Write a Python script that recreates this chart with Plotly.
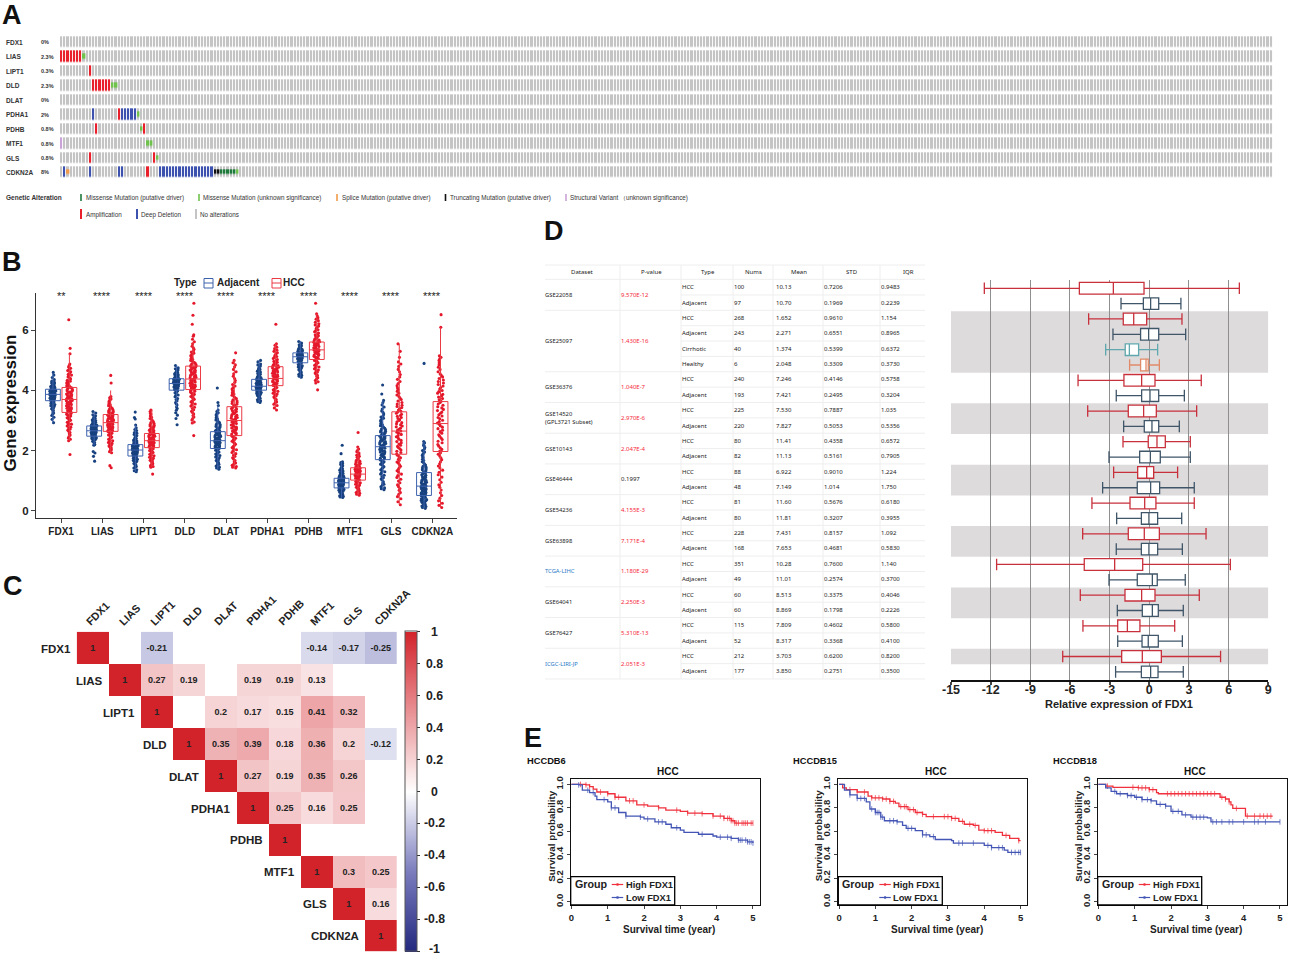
import numpy as np
import plotly.graph_objects as go

W, H = 1289, 956
SANS = "Liberation Sans"

genes = ["FDX1", "LIAS", "LIPT1", "DLD", "DLAT", "PDHA1", "PDHB", "MTF1", "GLS", "CDKN2A"]

# ---- A: oncoprint, sample indices per gene
onco_pct = ["0%", "2.3%", "0.3%", "2.3%", "0%", "2%", "0.8%", "0.8%", "0.8%", "8%"]
n_samples = 379
amp_cells = {"LIAS": [0, 1, 2, 3, 4, 5, 6], "LIPT1": [9], "DLD": [10, 11, 12, 13, 14, 15], "PDHA1": [18],
             "PDHB": [11, 26], "GLS": [9, 29], "CDKN2A": [27]}
deep_cells = {"PDHA1": [10, 19, 20, 21, 22, 23], "CDKN2A": [1, 9, 18, 19] + list(range(31, 48))}
sv_cells = {"MTF1": [0]}
unk_cells = {"LIAS": [7], "DLD": [16, 17], "PDHA1": [24], "PDHB": [25], "MTF1": [27, 28], "GLS": [30], "CDKN2A": [55]}
driver_cells = {"CDKN2A": [50, 51, 52, 53, 54]}
splice_cells = {"CDKN2A": [2]}
trunc_cells = {"CDKN2A": [48, 49]}

# ---- B: expression boxes (lower whisker, q1, median, q3, upper whisker)
adj_stats = [[2.93, 3.66, 3.87, 4.04, 4.57], [2.18, 2.48, 2.66, 2.82, 3.30], [1.30, 1.82, 2.02, 2.20, 2.85],
             [3.45, 4.01, 4.23, 4.39, 4.85], [1.38, 2.07, 2.33, 2.63, 3.50], [3.60, 4.01, 4.14, 4.37, 5.00],
             [4.40, 4.92, 5.12, 5.25, 5.65], [0.44, 0.76, 0.93, 1.08, 1.63], [0.70, 1.70, 2.13, 2.50, 3.67],
             [0.08, 0.51, 0.82, 1.27, 2.30]]
hcc_stats = [[2.33, 3.27, 3.70, 4.10, 5.22], [1.90, 2.64, 2.93, 3.20, 4.00], [1.45, 2.10, 2.33, 2.57, 3.35],
             [2.90, 4.03, 4.38, 4.81, 5.62], [1.42, 2.50, 3.00, 3.46, 5.00], [3.35, 4.16, 4.40, 4.79, 5.55],
             [4.25, 5.03, 5.35, 5.61, 6.55], [0.52, 1.02, 1.22, 1.43, 2.12], [0.20, 1.88, 2.65, 3.29, 5.55],
             [0.11, 1.97, 2.90, 3.63, 6.10]]
signif = ["**", "****", "****", "****", "****", "****", "****", "****", "****", "****"]

adj_points = [
    [2.93, 3.04, 3.11, 3.17, 3.21, 3.28, 3.33, 3.37, 3.41, 3.46, 3.49, 3.53, 3.56, 3.59, 3.61, 3.63, 3.65, 3.67, 3.69, 3.72, 3.73, 3.75, 3.77, 3.79, 3.81, 3.83, 3.84, 3.86, 3.88, 3.89, 3.91, 3.93, 3.95, 3.97, 3.99, 4.01, 4.03, 4.05, 4.07, 4.10, 4.13, 4.16, 4.19, 4.23, 4.27, 4.31, 4.36, 4.43, 4.51, 4.60],
    [1.65, 1.81, 1.92, 1.97, 2.18, 2.22, 2.27, 2.31, 2.35, 2.38, 2.41, 2.44, 2.47, 2.49, 2.51, 2.53, 2.55, 2.57, 2.59, 2.61, 2.63, 2.64, 2.66, 2.68, 2.70, 2.71, 2.73, 2.75, 2.77, 2.78, 2.80, 2.82, 2.84, 2.86, 2.88, 2.91, 2.94, 2.97, 3.00, 3.04, 3.08, 3.13, 3.19, 3.25, 3.30],
    [1.30, 1.36, 1.42, 1.47, 1.52, 1.57, 1.61, 1.65, 1.69, 1.73, 1.76, 1.79, 1.82, 1.85, 1.87, 1.89, 1.92, 1.94, 1.96, 1.98, 2.00, 2.02, 2.04, 2.06, 2.08, 2.10, 2.12, 2.14, 2.17, 2.19, 2.21, 2.24, 2.27, 2.30, 2.34, 2.38, 2.43, 2.48, 2.54, 2.60, 2.67, 2.76, 2.85, 3.05, 3.10, 3.28],
    [2.86, 3.07, 3.18, 3.26, 3.34, 3.45, 3.52, 3.60, 3.66, 3.73, 3.79, 3.85, 3.90, 3.94, 3.98, 4.01, 4.04, 4.07, 4.10, 4.13, 4.16, 4.18, 4.20, 4.22, 4.24, 4.26, 4.28, 4.30, 4.32, 4.34, 4.36, 4.38, 4.40, 4.43, 4.46, 4.49, 4.53, 4.57, 4.62, 4.68, 4.75, 4.83],
    [1.38, 1.45, 1.52, 1.58, 1.64, 1.70, 1.76, 1.81, 1.86, 1.91, 1.95, 1.99, 2.03, 2.07, 2.10, 2.13, 2.16, 2.19, 2.22, 2.25, 2.28, 2.31, 2.33, 2.36, 2.39, 2.42, 2.45, 2.48, 2.51, 2.54, 2.57, 2.60, 2.64, 2.68, 2.72, 2.77, 2.82, 2.87, 2.93, 2.99, 3.05, 3.12, 3.19, 3.26, 3.35, 3.50, 3.60, 4.08],
    [3.60, 3.66, 3.71, 3.76, 3.80, 3.84, 3.88, 3.91, 3.94, 3.97, 4.00, 4.02, 4.04, 4.06, 4.08, 4.10, 4.12, 4.14, 4.16, 4.18, 4.20, 4.22, 4.25, 4.27, 4.30, 4.33, 4.36, 4.39, 4.43, 4.47, 4.51, 4.56, 4.61, 4.67, 4.74, 4.81, 4.88, 4.95, 5.00],
    [4.44, 4.50, 4.56, 4.61, 4.66, 4.71, 4.76, 4.80, 4.84, 4.88, 4.91, 4.94, 4.97, 5.00, 5.03, 5.06, 5.08, 5.10, 5.12, 5.14, 5.16, 5.18, 5.20, 5.22, 5.24, 5.27, 5.30, 5.33, 5.37, 5.41, 5.46, 5.52, 5.58, 5.63],
    [0.44, 0.48, 0.52, 0.56, 0.60, 0.63, 0.66, 0.69, 0.72, 0.74, 0.76, 0.78, 0.80, 0.83, 0.85, 0.87, 0.89, 0.91, 0.93, 0.95, 0.97, 0.99, 1.01, 1.03, 1.05, 1.07, 1.10, 1.13, 1.16, 1.19, 1.23, 1.27, 1.32, 1.37, 1.43, 1.50, 1.57, 1.63, 1.90, 2.18],
    [0.70, 0.76, 0.85, 0.92, 1.02, 1.10, 1.18, 1.26, 1.33, 1.40, 1.46, 1.52, 1.58, 1.63, 1.68, 1.73, 1.78, 1.83, 1.88, 1.93, 1.98, 2.02, 2.06, 2.10, 2.14, 2.18, 2.22, 2.26, 2.30, 2.34, 2.38, 2.42, 2.46, 2.50, 2.54, 2.59, 2.64, 2.69, 2.74, 2.80, 2.86, 2.93, 3.00, 3.08, 3.17, 3.27, 3.38, 3.52, 3.67, 3.88, 4.18],
    [0.08, 0.14, 0.18, 0.22, 0.26, 0.30, 0.33, 0.36, 0.39, 0.42, 0.45, 0.48, 0.50, 0.53, 0.56, 0.59, 0.62, 0.65, 0.68, 0.71, 0.74, 0.77, 0.80, 0.83, 0.86, 0.89, 0.93, 0.97, 1.01, 1.05, 1.09, 1.13, 1.18, 1.23, 1.28, 1.33, 1.39, 1.45, 1.52, 1.59, 1.67, 1.76, 1.85, 1.95, 2.05, 2.15, 2.22, 2.30, 4.90],
]
adj_extra = [
    [3.25, 3.39, 3.47, 3.51, 3.57, 3.62, 3.68, 3.71, 3.74, 3.76, 3.78, 3.80, 3.82, 3.85, 3.87, 3.90, 3.92, 3.94, 3.96, 3.98, 4.00, 4.02, 4.06, 4.08, 4.11, 4.15, 4.21, 4.25],
    [2.20, 2.29, 2.36, 2.40, 2.43, 2.46, 2.50, 2.52, 2.54, 2.56, 2.58, 2.60, 2.62, 2.65, 2.67, 2.69, 2.72, 2.74, 2.76, 2.79, 2.81, 2.83, 2.85, 2.89, 2.92, 2.96, 3.02, 3.10, 3.16],
    [1.33, 1.44, 1.50, 1.55, 1.63, 1.67, 1.71, 1.75, 1.78, 1.81, 1.84, 1.86, 1.88, 1.91, 1.93, 1.95, 1.97, 1.99, 2.01, 2.03, 2.05, 2.07, 2.09, 2.11, 2.13, 2.16, 2.18, 2.20, 2.23, 2.26, 2.32, 2.40, 2.50, 2.58, 2.70],
    [3.40, 3.56, 3.70, 3.82, 3.92, 3.96, 4.00, 4.03, 4.06, 4.09, 4.11, 4.14, 4.17, 4.19, 4.21, 4.23, 4.25, 4.27, 4.29, 4.31, 4.33, 4.35, 4.37, 4.39, 4.42, 4.45, 4.48, 4.51, 4.55, 4.60, 4.66, 4.72],
    [1.42, 1.49, 1.55, 1.61, 1.67, 1.73, 1.79, 1.84, 1.89, 1.93, 1.97, 2.01, 2.05, 2.08, 2.12, 2.15, 2.18, 2.21, 2.24, 2.27, 2.30, 2.32, 2.35, 2.38, 2.41, 2.44, 2.47, 2.50, 2.53, 2.56, 2.59, 2.62, 2.66, 2.70, 2.75, 2.80, 2.85, 2.90, 2.96, 3.02, 3.09, 3.16, 3.23, 3.30],
    [3.63, 3.69, 3.74, 3.78, 3.83, 3.86, 3.90, 3.93, 3.96, 3.99, 4.01, 4.03, 4.05, 4.07, 4.09, 4.11, 4.13, 4.15, 4.17, 4.19, 4.21, 4.24, 4.26, 4.29, 4.32, 4.35, 4.38, 4.41, 4.45, 4.49, 4.54, 4.59, 4.64, 4.70, 4.78, 4.85],
    [4.47, 4.53, 4.59, 4.64, 4.69, 4.74, 4.78, 4.82, 4.86, 4.90, 4.93, 4.96, 4.99, 5.02, 5.05, 5.07, 5.09, 5.11, 5.13, 5.15, 5.17, 5.19, 5.21, 5.23, 5.26, 5.29, 5.32, 5.35, 5.39, 5.44, 5.49, 5.55],
    [0.46, 0.50, 0.54, 0.58, 0.62, 0.65, 0.68, 0.71, 0.73, 0.75, 0.77, 0.79, 0.81, 0.84, 0.86, 0.88, 0.90, 0.92, 0.94, 0.96, 0.98, 1.00, 1.02, 1.04, 1.06, 1.08, 1.11, 1.14, 1.18, 1.21, 1.25, 1.30, 1.35, 1.40, 1.46, 1.54, 1.60],
    [0.73, 0.80, 0.88, 0.96, 1.06, 1.14, 1.22, 1.30, 1.36, 1.43, 1.49, 1.55, 1.60, 1.65, 1.70, 1.75, 1.80, 1.85, 1.90, 1.95, 2.00, 2.04, 2.08, 2.12, 2.16, 2.20, 2.24, 2.28, 2.32, 2.36, 2.40, 2.44, 2.48, 2.52, 2.57, 2.62, 2.66, 2.72, 2.78, 2.83, 2.90, 2.97, 3.04, 3.12, 3.22, 3.32, 3.45, 3.60],
    [0.11, 0.16, 0.20, 0.24, 0.28, 0.31, 0.34, 0.37, 0.40, 0.43, 0.46, 0.49, 0.52, 0.55, 0.57, 0.60, 0.63, 0.66, 0.70, 0.73, 0.76, 0.79, 0.82, 0.85, 0.88, 0.91, 0.95, 0.99, 1.03, 1.07, 1.11, 1.15, 1.20, 1.25, 1.30, 1.36, 1.42, 1.48, 1.55, 1.63, 1.71, 1.80, 1.90, 2.00, 2.10, 2.18, 2.26],
]
hcc_points = [
    [1.87, 2.33, 2.42, 2.52, 2.60, 2.68, 2.75, 2.82, 2.88, 2.94, 2.99, 3.04, 3.09, 3.13, 3.17, 3.21, 3.25, 3.29, 3.33, 3.37, 3.41, 3.45, 3.49, 3.53, 3.57, 3.60, 3.64, 3.67, 3.71, 3.74, 3.78, 3.81, 3.85, 3.88, 3.92, 3.95, 3.99, 4.03, 4.07, 4.11, 4.15, 4.19, 4.24, 4.29, 4.34, 4.39, 4.45, 4.51, 4.58, 4.66, 4.74, 4.83, 5.22, 5.40, 6.35],
    [1.43, 1.50, 1.93, 2.00, 2.06, 2.12, 2.18, 2.24, 2.30, 2.35, 2.40, 2.45, 2.50, 2.54, 2.58, 2.62, 2.65, 2.68, 2.71, 2.74, 2.77, 2.80, 2.83, 2.86, 2.89, 2.92, 2.95, 2.98, 3.01, 3.04, 3.07, 3.10, 3.13, 3.16, 3.19, 3.22, 3.26, 3.30, 3.35, 3.40, 3.46, 3.52, 3.58, 3.65, 3.72, 3.80, 4.25, 4.50],
    [1.22, 1.45, 1.50, 1.56, 1.62, 1.68, 1.73, 1.78, 1.83, 1.88, 1.92, 1.96, 2.00, 2.04, 2.08, 2.12, 2.15, 2.18, 2.21, 2.24, 2.27, 2.30, 2.33, 2.36, 2.39, 2.42, 2.45, 2.48, 2.51, 2.54, 2.57, 2.60, 2.64, 2.68, 2.72, 2.77, 2.82, 2.87, 2.93, 3.00, 3.07, 3.15, 3.24, 3.35],
    [2.50, 2.92, 3.02, 3.12, 3.22, 3.31, 3.40, 3.48, 3.55, 3.62, 3.68, 3.74, 3.80, 3.85, 3.90, 3.95, 4.00, 4.04, 4.08, 4.12, 4.16, 4.20, 4.24, 4.28, 4.32, 4.36, 4.40, 4.44, 4.48, 4.52, 4.56, 4.60, 4.64, 4.68, 4.72, 4.76, 4.80, 4.84, 4.89, 4.94, 5.00, 5.06, 5.13, 5.20, 5.28, 5.37, 5.47, 5.62, 5.80, 5.85, 6.20, 6.50, 6.90],
    [1.42, 1.47, 1.55, 1.63, 1.72, 1.81, 1.90, 1.99, 2.07, 2.14, 2.21, 2.28, 2.35, 2.41, 2.47, 2.53, 2.58, 2.63, 2.68, 2.73, 2.78, 2.83, 2.88, 2.93, 2.98, 3.03, 3.08, 3.13, 3.18, 3.23, 3.28, 3.33, 3.38, 3.43, 3.48, 3.54, 3.60, 3.66, 3.73, 3.80, 3.88, 3.96, 4.05, 4.15, 4.27, 4.40, 4.55, 4.70, 4.85, 5.00, 5.25],
    [3.35, 3.50, 3.58, 3.66, 3.74, 3.82, 3.88, 3.94, 4.00, 4.05, 4.10, 4.15, 4.19, 4.23, 4.27, 4.31, 4.35, 4.39, 4.43, 4.47, 4.51, 4.55, 4.59, 4.63, 4.67, 4.71, 4.75, 4.79, 4.83, 4.87, 4.92, 4.97, 5.03, 5.10, 5.17, 5.25, 5.34, 5.44, 5.55, 6.20],
    [4.02, 4.25, 4.33, 4.42, 4.50, 4.58, 4.65, 4.72, 4.78, 4.84, 4.90, 4.95, 5.00, 5.05, 5.10, 5.14, 5.18, 5.22, 5.26, 5.30, 5.34, 5.38, 5.42, 5.46, 5.50, 5.54, 5.58, 5.62, 5.66, 5.71, 5.76, 5.82, 5.88, 5.95, 6.02, 6.10, 6.18, 6.27, 6.37, 6.48, 6.55, 6.90],
    [0.52, 0.58, 0.64, 0.70, 0.76, 0.81, 0.86, 0.91, 0.95, 0.99, 1.03, 1.07, 1.10, 1.13, 1.16, 1.19, 1.22, 1.25, 1.28, 1.31, 1.34, 1.37, 1.40, 1.43, 1.47, 1.51, 1.55, 1.60, 1.65, 1.71, 1.78, 1.85, 1.92, 2.00, 2.12, 2.60],
    [0.20, 0.40, 0.55, 0.68, 0.80, 0.93, 1.05, 1.17, 1.28, 1.38, 1.48, 1.58, 1.67, 1.76, 1.85, 1.94, 2.02, 2.10, 2.18, 2.26, 2.34, 2.42, 2.50, 2.58, 2.65, 2.72, 2.79, 2.86, 2.93, 3.00, 3.07, 3.14, 3.21, 3.28, 3.35, 3.43, 3.51, 3.60, 3.70, 3.80, 3.91, 4.03, 4.16, 4.30, 4.45, 4.62, 4.80, 4.95, 5.30, 5.55],
    [0.11, 0.25, 0.42, 0.60, 0.78, 0.95, 1.12, 1.28, 1.42, 1.56, 1.70, 1.82, 1.93, 2.04, 2.15, 2.26, 2.37, 2.48, 2.58, 2.68, 2.78, 2.88, 2.97, 3.06, 3.15, 3.24, 3.33, 3.42, 3.51, 3.60, 3.69, 3.78, 3.87, 3.96, 4.05, 4.15, 4.25, 4.35, 4.45, 4.55, 4.70, 4.85, 5.00, 5.10, 5.15, 6.10, 6.52],
]
hcc_extra = [
    [2.38, 2.47, 2.56, 2.64, 2.71, 2.78, 2.85, 2.91, 2.96, 3.01, 3.06, 3.11, 3.15, 3.19, 3.23, 3.27, 3.31, 3.35, 3.39, 3.43, 3.47, 3.51, 3.55, 3.58, 3.62, 3.66, 3.69, 3.72, 3.76, 3.79, 3.83, 3.86, 3.90, 3.93, 3.97, 4.01, 4.05, 4.09, 4.13, 4.17, 4.21, 4.26, 4.31, 4.36, 4.42, 4.48, 4.54, 4.62, 4.70, 4.78, 4.88],
    [1.96, 2.03, 2.09, 2.15, 2.21, 2.27, 2.33, 2.38, 2.43, 2.47, 2.52, 2.56, 2.60, 2.64, 2.67, 2.70, 2.73, 2.76, 2.79, 2.82, 2.85, 2.88, 2.91, 2.94, 2.97, 3.00, 3.03, 3.06, 3.09, 3.12, 3.15, 3.18, 3.21, 3.24, 3.28, 3.33, 3.38, 3.43, 3.49, 3.55, 3.62, 3.69, 3.76],
    [1.47, 1.53, 1.59, 1.65, 1.70, 1.75, 1.80, 1.85, 1.90, 1.94, 1.98, 2.02, 2.06, 2.10, 2.13, 2.16, 2.19, 2.22, 2.25, 2.28, 2.31, 2.34, 2.37, 2.40, 2.43, 2.46, 2.49, 2.52, 2.55, 2.58, 2.62, 2.66, 2.70, 2.74, 2.79, 2.84, 2.90, 2.96, 3.03, 3.11, 3.20, 3.30],
    [2.95, 3.07, 3.17, 3.27, 3.36, 3.44, 3.51, 3.58, 3.65, 3.71, 3.77, 3.82, 3.87, 3.92, 3.97, 4.02, 4.06, 4.10, 4.14, 4.18, 4.22, 4.26, 4.30, 4.34, 4.38, 4.42, 4.46, 4.50, 4.54, 4.58, 4.62, 4.66, 4.70, 4.74, 4.78, 4.82, 4.86, 4.91, 4.97, 5.03, 5.09, 5.16, 5.24, 5.32, 5.42, 5.55, 5.70],
    [1.45, 1.51, 1.59, 1.67, 1.76, 1.85, 1.94, 2.03, 2.10, 2.17, 2.24, 2.31, 2.38, 2.44, 2.50, 2.55, 2.60, 2.65, 2.70, 2.75, 2.80, 2.85, 2.90, 2.95, 3.00, 3.05, 3.10, 3.15, 3.20, 3.25, 3.30, 3.35, 3.40, 3.45, 3.51, 3.57, 3.63, 3.69, 3.76, 3.84, 3.92, 4.00, 4.10, 4.20, 4.33, 4.47, 4.62, 4.78, 4.92],
    [3.42, 3.54, 3.62, 3.70, 3.78, 3.85, 3.91, 3.97, 4.02, 4.07, 4.12, 4.17, 4.21, 4.25, 4.29, 4.33, 4.37, 4.41, 4.45, 4.49, 4.53, 4.57, 4.61, 4.65, 4.69, 4.73, 4.77, 4.81, 4.85, 4.89, 4.94, 5.00, 5.06, 5.13, 5.21, 5.30, 5.39, 5.50],
    [4.29, 4.37, 4.46, 4.54, 4.61, 4.68, 4.75, 4.81, 4.87, 4.92, 4.97, 5.02, 5.07, 5.12, 5.16, 5.20, 5.24, 5.28, 5.32, 5.36, 5.40, 5.44, 5.48, 5.52, 5.56, 5.60, 5.64, 5.68, 5.73, 5.79, 5.85, 5.91, 5.98, 6.06, 6.14, 6.22, 6.32, 6.42],
    [0.55, 0.61, 0.67, 0.73, 0.78, 0.83, 0.88, 0.93, 0.97, 1.01, 1.05, 1.08, 1.11, 1.14, 1.17, 1.20, 1.23, 1.26, 1.29, 1.32, 1.35, 1.38, 1.41, 1.45, 1.49, 1.53, 1.57, 1.62, 1.68, 1.74, 1.81, 1.88, 1.96, 2.05],
    [0.30, 0.47, 0.61, 0.74, 0.86, 0.99, 1.11, 1.22, 1.33, 1.43, 1.53, 1.62, 1.71, 1.80, 1.89, 1.98, 2.06, 2.14, 2.22, 2.30, 2.38, 2.46, 2.54, 2.61, 2.68, 2.75, 2.82, 2.89, 2.96, 3.03, 3.10, 3.17, 3.24, 3.31, 3.39, 3.47, 3.55, 3.65, 3.75, 3.85, 3.97, 4.09, 4.23, 4.37, 4.53, 4.70, 4.88, 5.10],
    [0.18, 0.33, 0.51, 0.69, 0.86, 1.03, 1.20, 1.35, 1.49, 1.63, 1.76, 1.88, 1.98, 2.09, 2.20, 2.31, 2.42, 2.53, 2.63, 2.73, 2.83, 2.92, 3.01, 3.10, 3.19, 3.28, 3.37, 3.46, 3.55, 3.64, 3.73, 3.82, 3.91, 4.00, 4.10, 4.20, 4.30, 4.40, 4.50, 4.62, 4.77, 4.92, 5.05],
]

# ---- C: correlation matrix, upper triangle only
corr = [
    [1, None, -0.21, None, None, None, None, -0.14, -0.17, -0.25],
    [None, 1, 0.27, 0.19, None, 0.19, 0.19, 0.13, None, None],
    [None, None, 1, None, 0.2, 0.17, 0.15, 0.41, 0.32, None],
    [None, None, None, 1, 0.35, 0.39, 0.18, 0.36, 0.2, -0.12],
    [None, None, None, None, 1, 0.27, 0.19, 0.35, 0.26, None],
    [None, None, None, None, None, 1, 0.25, 0.16, 0.25, None],
    [None, None, None, None, None, None, 1, None, None, None],
    [None, None, None, None, None, None, None, 1, 0.3, 0.25],
    [None, None, None, None, None, None, None, None, 1, 0.16],
    [None, None, None, None, None, None, None, None, None, 1],
]
corr_ticks = [1, 0.8, 0.6, 0.4, 0.2, 0, -0.2, -0.4, -0.6, -0.8, -1]

# ---- D: table and relative expression boxes
datasets = ["GSE22058", "GSE25097", "GSE36376", "GSE14520<br>(GPL3721 Subset)", "GSE10143", "GSE46444", "GSE54236",
            "GSE63898", "TCGA-LIHC", "GSE64041", "GSE76427", "ICGC-LIRI-JP"]
pvalues = ["9.570E-12", "1.430E-16", "1.040E-7", "2.970E-6", "2.047E-4", "0.1997", "4.155E-3", "7.171E-4",
           "1.180E-29", "2.250E-3", "5.310E-13", "2.051E-3"]
group_rows = [2, 4, 2, 2, 2, 2, 2, 2, 2, 2, 2, 2]
row_types = ["HCC", "Adjacent", "HCC", "Adjacent", "Cirrhotic", "Healthy"] + ["HCC", "Adjacent"] * 10
row_nums = ["100", "97", "268", "243", "40", "6", "240", "193", "225", "220", "80", "82", "88", "48", "81", "80",
            "228", "168", "351", "49", "60", "60", "115", "52", "212", "177"]
row_mean = ["10.13", "10.70", "1.652", "2.271", "1.374", "2.048", "7.246", "7.421", "7.530", "7.827", "11.41",
            "11.13", "6.922", "7.149", "11.60", "11.81", "7.431", "7.653", "10.28", "11.01", "8.513", "8.869",
            "7.809", "8.317", "3.703", "3.850"]
row_std = ["0.7206", "0.1969", "0.9610", "0.6551", "0.5399", "0.3309", "0.4146", "0.2495", "0.7887", "0.5053",
           "0.4358", "0.5161", "0.9010", "1.014", "0.5676", "0.3207", "0.8157", "0.4681", "0.7600", "0.2574",
           "0.3375", "0.1798", "0.4602", "0.3368", "0.6200", "0.2751"]
row_iqr = ["0.9483", "0.2239", "1.154", "0.8965", "0.6372", "0.3730", "0.5758", "0.3204", "1.035", "0.5356",
           "0.6572", "0.7905", "1.224", "1.750", "0.6180", "0.3955", "1.092", "0.5830", "1.140", "0.3700",
           "0.4046", "0.2226", "0.5800", "0.4100", "0.8200", "0.3500"]
# lower whisker, q1, median, q3, upper whisker per table row
rel_stats = [[-12.48, -5.29, -2.72, -0.40, 6.81], [-2.14, -0.45, 0.10, 0.71, 2.39], [-4.59, -1.97, -1.18, -0.20, 2.47],
             [-2.75, -0.66, -0.05, 0.71, 2.75], [-3.30, -1.82, -1.51, -0.81, 0.63], [-1.49, -0.66, -0.25, -0.08, 0.76],
             [-5.39, -1.92, -0.58, 0.43, 3.93], [-2.50, -0.58, 0.05, 0.71, 2.65], [-4.66, -1.59, -0.43, 0.53, 3.58],
             [-1.94, -0.38, 0.20, 0.71, 2.27], [-1.99, -0.08, 0.58, 1.21, 3.10], [-3.05, -0.73, 0.08, 0.83, 3.10],
             [-2.70, -0.88, -0.20, 0.33, 2.14], [-3.53, -0.91, 0.10, 0.78, 3.40], [-4.34, -1.46, -0.35, 0.50, 3.40],
             [-2.47, -0.60, -0.03, 0.63, 2.45], [-5.04, -1.59, -0.38, 0.76, 4.29], [-2.50, -0.60, -0.03, 0.63, 2.50],
             [-11.55, -4.92, -2.62, -0.50, 6.13], [-3.05, -0.91, 0.23, 0.60, 2.72], [-5.22, -1.84, -0.58, 0.43, 3.78],
             [-2.42, -0.53, 0.23, 0.68, 2.57], [-5.02, -2.39, -1.66, -0.71, 1.92], [-2.39, -0.55, -0.08, 0.68, 2.50],
             [-6.55, -2.09, -0.53, 0.91, 5.39], [-2.55, -0.60, 0.10, 0.66, 2.57]]
band_rows = [(2, 5), (8, 9), (12, 13), (16, 17), (20, 21), (24, 24)]
rel_ticks = [-15, -12, -9, -6, -3, 0, 3, 6, 9]

# ---- E: survival curves
km_titles = ["HCCDB6", "HCCDB15", "HCCDB18"]
km_high_t = [[0, 0.4, 0.5, 0.6, 0.7, 1.0, 1.2, 1.5, 1.8, 2.1, 2.4, 2.6, 3.0, 3.2, 3.6, 3.9, 4.2, 4.4, 4.5, 5.0],
             [0, 0.1, 0.2, 0.5, 0.8, 0.9, 1.2, 1.4, 1.55, 1.65, 1.9, 2.1, 2.3, 2.4, 2.9, 3.1, 3.3, 3.45, 3.7, 3.85, 4.0, 4.3, 4.5, 4.7, 4.95, 5.0],
             [0, 0.2, 0.4, 1.1, 1.4, 1.6, 1.65, 3.3, 3.35, 3.5, 3.6, 3.65, 3.7, 4.05, 4.8]]
km_high_s = [[1, 0.995, 0.98, 0.96, 0.935, 0.92, 0.89, 0.86, 0.825, 0.815, 0.80, 0.78, 0.77, 0.755, 0.75, 0.73, 0.71, 0.69, 0.67, 0.67],
             [1, 0.97, 0.955, 0.935, 0.90, 0.885, 0.875, 0.855, 0.84, 0.81, 0.785, 0.76, 0.745, 0.725, 0.725, 0.71, 0.685, 0.66, 0.65, 0.61, 0.605, 0.59, 0.565, 0.54, 0.52, 0.52],
             [1, 0.985, 0.975, 0.97, 0.955, 0.93, 0.92, 0.92, 0.89, 0.875, 0.85, 0.825, 0.795, 0.73, 0.73]]
km_low_t = [[0, 0.2, 0.3, 0.5, 0.65, 0.7, 1.0, 1.1, 1.3, 1.5, 1.9, 2.0, 2.3, 2.6, 2.75, 3.0, 3.1, 3.5, 3.9, 4.0, 4.4, 4.6, 4.85, 5.0],
            [0, 0.15, 0.3, 0.5, 0.75, 0.85, 1.0, 1.15, 1.25, 1.6, 1.75, 1.85, 2.1, 2.3, 2.5, 2.65, 3.1, 3.15, 4.0, 4.2, 4.55, 4.65, 5.0],
            [0, 0.2, 0.35, 0.5, 0.8, 1.0, 1.2, 1.45, 1.6, 1.85, 2.0, 2.3, 2.55, 3.0, 3.1, 5.0]]
km_low_s = [[1, 0.995, 0.95, 0.93, 0.90, 0.87, 0.85, 0.80, 0.76, 0.73, 0.72, 0.705, 0.68, 0.66, 0.63, 0.61, 0.59, 0.575, 0.56, 0.55, 0.54, 0.525, 0.51, 0.50],
            [1, 0.95, 0.91, 0.88, 0.85, 0.79, 0.76, 0.72, 0.69, 0.68, 0.65, 0.625, 0.605, 0.57, 0.555, 0.53, 0.52, 0.50, 0.48, 0.46, 0.44, 0.42, 0.42],
            [1, 0.97, 0.94, 0.92, 0.905, 0.89, 0.87, 0.86, 0.83, 0.815, 0.77, 0.74, 0.72, 0.715, 0.68, 0.68]]
km_high_cens = [[0.25, 0.4, 0.5, 0.8, 1.0, 1.2, 1.3, 1.6, 1.7, 2.0, 2.4, 2.9, 3.2, 3.4, 3.6, 3.9, 4.1, 4.2, 4.3, 4.35, 4.4, 4.45, 4.5, 4.55, 4.6, 4.7, 4.75, 4.8, 4.85, 4.95, 5.0],
                [0.3, 0.5, 0.7, 0.9, 1.0, 1.1, 1.2, 1.3, 1.4, 1.5, 1.7, 1.8, 1.85, 1.95, 2.05, 2.15, 2.3, 2.6, 2.9, 3.0, 3.1, 3.2, 3.4, 3.6, 3.75, 4.0, 4.1, 4.2, 4.6, 4.95],
                [0.25, 0.95, 1.1, 1.2, 1.3, 1.4, 1.5, 1.9, 2.0, 2.1, 2.2, 2.3, 2.4, 2.5, 2.6, 2.7, 2.8, 2.9, 3.0, 3.1, 3.2, 3.4, 3.5, 3.6, 3.8, 4.1, 4.3, 4.45, 4.55, 4.65, 4.75]]
km_low_cens = [[0.2, 0.45, 0.6, 0.9, 1.1, 1.2, 1.5, 1.9, 2.1, 2.4, 2.5, 2.9, 3.6, 4.1, 4.3, 4.4, 4.6, 4.65, 4.7, 4.8, 4.85, 4.9, 4.95, 5.0],
               [0.3, 0.5, 0.6, 0.7, 0.9, 1.0, 1.05, 1.1, 1.15, 1.2, 1.4, 1.5, 1.6, 1.9, 2.0, 2.3, 2.4, 2.6, 3.3, 3.4, 3.7, 4.1, 4.2, 4.4, 4.5, 4.75, 4.85, 4.95, 5.0],
               [0.45, 0.6, 0.8, 0.9, 1.05, 1.2, 1.35, 1.45, 1.7, 1.85, 2.05, 2.2, 2.4, 2.6, 2.7, 2.8, 2.9, 3.15, 3.25, 3.4, 3.6, 3.7, 4.0, 4.3, 4.4, 4.6, 5.0]]


def dom_x(a, b):
    return [a / W, b / W]


def dom_y(top, bottom):
    return [1 - bottom / H, 1 - top / H]


anns = []
shapes = []


def note(px, py, s, size=10, bold=False, color="#111111", anchor="left", family=SANS, angle=0, align=None):
    anns.append(dict(x=px / W, y=1 - py / H, xref="paper", yref="paper", text=f"<b>{s}</b>" if bold else s,
                     showarrow=False, xanchor=anchor, yanchor="middle", textangle=angle, borderpad=0, borderwidth=0,
                     align=align or anchor, font=dict(size=size, color=color, family=family)))


def rect(x0, y0, x1, y1, fill=None, line=None, width=1):
    shapes.append(dict(type="rect", xref="paper", yref="paper", x0=x0 / W, x1=x1 / W, y0=1 - y0 / H, y1=1 - y1 / H,
                       fillcolor=fill or "rgba(0,0,0,0)", line=dict(color=line, width=width if line else 0)))


def seg(x0, y0, x1, y1, color="#eeeeee", width=1):
    shapes.append(dict(type="line", xref="paper", yref="paper", x0=x0 / W, x1=x1 / W, y0=1 - y0 / H, y1=1 - y1 / H,
                       line=dict(color=color, width=width)))


fig = go.Figure()

# ---------- A
GRAY, RED, BLUE, LGREEN, DGREEN = "#c4c4c4", "#e9202b", "#3d52ae", "#6fc24c", "#1d7a3a"
ORANGE, BLACK, PURPLE = "#f29a4a", "#111111", "#c9a2d8"
base = np.zeros((10, n_samples))
for code, cells in [(1, amp_cells), (2, deep_cells), (3, sv_cells)]:
    for g, idx in cells.items():
        base[genes.index(g), idx] = code
fig.add_trace(go.Heatmap(z=base, xgap=0.9, ygap=3.4, zmin=0, zmax=3, showscale=False, xaxis="x", yaxis="y",
                         colorscale=[[0, GRAY], [0.33, GRAY], [0.33, RED], [0.66, RED], [0.66, BLUE], [0.9, BLUE],
                                     [0.9, PURPLE], [1, PURPLE]]))
muts = np.full((10, n_samples), np.nan)
for code, cells in [(0, unk_cells), (1, driver_cells), (2, splice_cells), (3, trunc_cells)]:
    for g, idx in cells.items():
        muts[genes.index(g), idx] = code
fig.add_trace(go.Heatmap(z=muts, xgap=0.6, ygap=9.5, zmin=0, zmax=3, showscale=False, xaxis="x", yaxis="y",
                         colorscale=[[0, LGREEN], [0.2, LGREEN], [0.2, DGREEN], [0.5, DGREEN], [0.5, ORANGE],
                                     [0.8, ORANGE], [0.8, BLACK], [1, BLACK]]))
for i, g in enumerate(genes):
    note(6, 42.5 + 14.44 * i, g, size=6.5, bold=True, color="#333333")
    note(41, 42.5 + 14.44 * i, onco_pct[i], size=5.5, bold=True, color="#333333")
note(6, 197.5, "Genetic Alteration", size=6.5, bold=True, color="#333333")
legend_row1 = [(81, DGREEN, "Missense Mutation (putative driver)", 85.5),
               (199, LGREEN, "Missense Mutation (unknown significance)", 203),
               (337, ORANGE, "Splice Mutation (putative driver)", 341.5),
               (445.5, BLACK, "Truncating Mutation (putative driver)", 449.5),
               (566, PURPLE, "Structural Variant （unknown significance)", 570)]
for gx, c, s, tx in legend_row1:
    rect(gx - 0.8, 194, gx + 0.8, 201, fill=c)
    note(tx, 197.5, s, size=6.3, color="#333333")
legend_row2 = [(81, RED, "Amplification", 86), (137, BLUE, "Deep Deletion", 141), (196, GRAY, "No alterations", 199.5)]
for gx, c, s, tx in legend_row2:
    rect(gx - 1, 209, gx + 1, 219, fill=c)
    note(tx, 214.5, s, size=6.3, color="#333333")

# ---------- B
BOX_BLUE, BOX_RED, DOT_BLUE, DOT_RED = "#3d62ad", "#ea3a44", "#17417f", "#e5182b"
for i in range(10):
    for pts, off, c in [(adj_points[i] + adj_extra[i], -0.2, DOT_BLUE), (hcc_points[i] + hcc_extra[i], 0.2, DOT_RED)]:
        fig.add_trace(go.Box(x=[i + off] * len(pts), y=pts, boxpoints="all", jitter=0.42, pointpos=0, width=0.36,
                             fillcolor="rgba(0,0,0,0)", line=dict(width=0, color=c), whiskerwidth=0,
                             marker=dict(size=3.1, color=c), xaxis="x2", yaxis="y2", showlegend=False))
for stats, off, c in [(adj_stats, -0.2, BOX_BLUE), (hcc_stats, 0.2, BOX_RED)]:
    fig.add_trace(go.Box(x=[i + off for i in range(10)], q1=[s[1] for s in stats], median=[s[2] for s in stats],
                         q3=[s[3] for s in stats], lowerfence=[s[0] for s in stats], upperfence=[s[4] for s in stats],
                         width=0.36, whiskerwidth=0, fillcolor="rgba(0,0,0,0)", line=dict(color=c, width=1),
                         xaxis="x2", yaxis="y2", showlegend=False))
for i, s in enumerate(signif):
    anns.append(dict(x=i, y=7.13, xref="x2", yref="y2", text=s, showarrow=False, yanchor="middle",
                     font=dict(size=11, family=SANS, color="#222222")))
note(174, 282.7, "Type", size=10, bold=True, color="#222222")
rect(204, 278.5, 213, 288, line=BOX_BLUE, width=1)
note(217, 282.7, "Adjacent", size=10, bold=True, color="#222222")
rect(272, 278.5, 281, 288, line=BOX_RED, width=1)
note(283, 282.7, "HCC", size=10, bold=True, color="#222222")
seg(204, 283, 213, 283, BOX_BLUE, 1)
seg(272, 283, 281, 283, BOX_RED, 1)
note(10.5, 403, "Gene expression", size=17, bold=True, anchor="center", angle=-90)

# ---------- C
corr_text = [["" if v is None else str(v) for v in row] for row in corr]
fig.add_trace(go.Heatmap(z=corr, text=corr_text, texttemplate="%{text}", zmin=-1, zmax=1, xgap=0, ygap=0, hoverongaps=False,
                         textfont=dict(size=9, family=SANS, color="#222222", weight=700),
                         colorscale=[[0, "#22287f"], [0.25, "#7a7cbd"], [0.5, "#ffffff"], [1, "#d2232a"]],
                         xaxis="x3", yaxis="y3",
                         colorbar=dict(x=405 / W, xanchor="left", xpad=0, ypad=0, y=1 - 791.5 / H, yanchor="middle",
                                       len=319.6 / H, lenmode="fraction", thickness=12.3, thicknessmode="pixels",
                                       outlinewidth=1, outlinecolor="#555555", ticks="outside", ticklen=3,
                                       tickwidth=1, tickcolor="#333333", tickvals=corr_ticks, showticklabels=False)))
for v in corr_ticks:
    note(434.5, min(631.7 + (1 - v) / 2 * 319.6, 948.5), str(v), size=12.3, bold=True, anchor="center", color="#222222")
for i, g in enumerate(genes):
    cell_left = 76.7 + 32.03 * i
    note(cell_left - 6, 648.7 + 31.96 * i, g, size=11.5, bold=True, anchor="right", color="#222222")
    # rotated labels over the columns, bounding box anchored at its bottom left corner
    anns.append(dict(x=(cell_left + 16 - 10) / W, y=1 - 629 / H, xref="paper", yref="paper", text=f"<b>{g}</b>",
                     showarrow=False, xanchor="left", yanchor="bottom", textangle=-45, borderpad=0,
                     font=dict(size=10.8, family=SANS, color="#222222")))

# ---------- D
for gx in [620, 681, 733, 773, 823, 880]:
    seg(gx, 265, gx, 679)
seg(545, 279.3, 925, 279.3)
seg(545, 265, 925, 265)
for s, hx, in zip(["Dataset", "P-value", "Type", "Nums", "Mean", "STD", "IQR"], [582, 651, 708, 754, 799, 852, 908]):
    note(hx, 272, s, size=6, color="#222222", anchor="center", family="Noto Sans")
row_y = [287.3 + 15.36 * i for i in range(26)]
for i in range(26):
    ry = row_y[i]
    note(682, ry, row_types[i], size=6, color="#222222", family="Noto Sans")
    note(734, ry, row_nums[i], size=6, color="#222222", family="Noto Sans")
    note(776, ry, row_mean[i], size=6, color="#222222", family="Noto Sans")
    note(824, ry, row_std[i], size=6, color="#222222", family="Noto Sans")
    note(880.5, ry, row_iqr[i], size=6, color="#222222", family="Noto Sans")
    seg(681, ry + 7.68, 925, ry + 7.68)
start = 0
for name, pv, n in zip(datasets, pvalues, group_rows):
    cy = (row_y[start] + row_y[start + n - 1]) / 2
    is_blue = name in ("TCGA-LIHC", "ICGC-LIRI-JP")
    note(545, cy, name, size=5.8, color="#2a78c8" if is_blue else "#222222", family="Noto Sans")
    note(621, cy, pv, size=6, color="#222222" if pv == "0.1997" else "#f5283c", family="Noto Sans")
    start += n
    seg(545, row_y[start - 1] + 7.68, 681, row_y[start - 1] + 7.68)

box_rows = {"#c8303c": [i for i, t in enumerate(row_types) if t == "HCC"],
            "#3f5568": [i for i, t in enumerate(row_types) if t == "Adjacent"],
            "#5fa8ad": [i for i, t in enumerate(row_types) if t == "Cirrhotic"],
            "#e08a68": [i for i, t in enumerate(row_types) if t == "Healthy"]}
for c, rows in box_rows.items():
    fig.add_trace(go.Box(orientation="h", y=rows, lowerfence=[rel_stats[r][0] for r in rows],
                         q1=[rel_stats[r][1] for r in rows], median=[rel_stats[r][2] for r in rows],
                         q3=[rel_stats[r][3] for r in rows], upperfence=[rel_stats[r][4] for r in rows],
                         width=0.76, whiskerwidth=1, fillcolor="white", line=dict(color=c, width=1.3),
                         xaxis="x4", yaxis="y4", showlegend=False))
for a, b in band_rows:
    shapes.append(dict(type="rect", xref="x4", yref="y4", x0=-15, x1=9, y0=a - 0.5, y1=b + 0.5, layer="below",
                       fillcolor="#dedbdc", line=dict(width=0)))
note(1118.7, 704, "Relative expression of FDX1", size=11, bold=True, anchor="center", color="#222222")

# ---------- E
km_left = [570.7, 838.3, 1097.7]
for k in range(3):
    ax = 5 + k
    for ts, ss, cens, c in [(km_high_t[k], km_high_s[k], km_high_cens[k], "#f0303c"),
                            (km_low_t[k], km_low_s[k], km_low_cens[k], "#4355b5")]:
        fig.add_trace(go.Scatter(x=ts, y=ss, mode="lines", line=dict(color=c, width=1.3, shape="hv"),
                                 xaxis=f"x{ax}", yaxis=f"y{ax}", showlegend=False))
        ci = np.searchsorted(ts, cens, side="right") - 1
        fig.add_trace(go.Scatter(x=cens, y=[ss[j] for j in ci], mode="markers", xaxis=f"x{ax}", yaxis=f"y{ax}",
                                 marker=dict(symbol="line-ns", size=4, line=dict(color=c, width=0.7)), showlegend=False))
    L = km_left[k]
    note(L + 97.5, 771, "HCC", size=10, bold=True, anchor="center")
    note(L - 44 if k == 0 else L - 45, 760.5, km_titles[k], size=9.3, bold=True)
    note(L + 98.3, 929, "Survival time (year)", size=10, bold=True, anchor="center", color="#222222")
    note(L - 20, 836, "Survival probability", size=9.8, bold=True, anchor="center", angle=-90, color="#222222")
    rect(L, 876.7, L + 104, 905, fill="white", line="black", width=1.3)
    note(L + 4, 883.5, "Group", size=10.7, bold=True, color="#222222")
    for ly, c, s in [(884.5, "#f0303c", "High FDX1"), (897.5, "#4355b5", "Low FDX1")]:
        seg(L + 41, ly, L + 52.5, ly, c, 1.2)
        rect(L + 45.8, ly - 1.2, L + 47.8, ly + 1.2, fill=c)
        note(L + 55, ly, s, size=9.3, bold=True, color="#222222")

for letter, lx, ly in [("A", 2, 15), ("B", 2, 262), ("C", 3, 586), ("D", 544, 231), ("E", 524, 738)]:
    note(lx, ly, letter, size=27, bold=True, color="#111111")

axis_font = dict(family=SANS, color="#222222")
layout = dict(
    template="none",
    width=W, height=H, margin=dict(l=0, r=0, t=0, b=0), paper_bgcolor="white", plot_bgcolor="white",
    boxmode="overlay", showlegend=False, font=dict(family=SANS),
    xaxis=dict(domain=dom_x(60, 1272.8), range=[-0.5, n_samples - 0.5], visible=False),
    yaxis=dict(domain=dom_y(35.28, 179.7), range=[9.5, -0.5], visible=False),
    xaxis2=dict(domain=dom_x(36, 457), range=[-0.61, 9.6], anchor="y2", tickvals=list(range(10)), ticktext=genes,
                showgrid=False, zeroline=False, showline=True, linecolor="#333333", linewidth=1.2, ticks="outside",
                ticklen=4, tickwidth=1.2, tickfont=dict(size=10, weight=700, **axis_font)),
    yaxis2=dict(domain=dom_y(293, 518), range=[-0.24, 7.24], anchor="x2", tickvals=[0, 2, 4, 6], showgrid=False,
                zeroline=False, showline=True, linecolor="#333333", linewidth=1.2, ticks="outside", ticklen=4,
                tickwidth=1.2, tickfont=dict(size=11.5, weight=700, **axis_font)),
    xaxis3=dict(domain=dom_x(76.7, 397), range=[-0.5, 9.5], anchor="y3", showticklabels=False, showgrid=False,
                zeroline=False, ticks=""),
    yaxis3=dict(domain=dom_y(631.7, 951.3), range=[9.5, -0.5], anchor="x3", visible=False),
    xaxis4=dict(domain=dom_x(951, 1268.3), range=[-15, 9], anchor="y4", tickvals=rel_ticks,
                ticktext=[str(t) for t in rel_ticks], showgrid=True, gridcolor="#8f8f8f", gridwidth=1.2, zeroline=False,
                showline=True, linecolor="#111111", linewidth=2, ticks="outside", ticklen=3, tickwidth=1.5,
                ticklabelstandoff=-6, tickfont=dict(size=12.5, weight=700, **axis_font)),
    yaxis4=dict(domain=dom_y(280, 680), range=[25.53, -0.54], anchor="x4", visible=False),
)
for k in range(3):
    ax = 5 + k
    L = km_left[k]
    layout[f"xaxis{ax}"] = dict(domain=dom_x(L, L + 188.8), range=[-0.02, 5.18], anchor=f"y{ax}", tickvals=[0, 1, 2, 3, 4, 5],
                                showgrid=False, zeroline=False, showline=True, mirror=True, linecolor="#111111",
                                linewidth=1.4, ticks="outside", ticklen=3, tickwidth=1,
                                tickfont=dict(size=9.5, weight=700, **axis_font))
    layout[f"yaxis{ax}"] = dict(domain=dom_y(779.3, 905), range=[-0.028, 1.043], anchor=f"x{ax}",
                                tickvals=[0, 0.2, 0.4, 0.6, 0.8, 1.0], ticktext=["0.0", "0.2", "0.4", "0.6", "0.8", "1.0"],
                                tickangle=-90, showgrid=False, zeroline=False, showline=True, mirror=True,
                                linecolor="#111111", linewidth=1.4, ticks="outside", ticklen=3, tickwidth=1,
                                tickfont=dict(size=9.5, weight=700, **axis_font))
fig.update_layout(annotations=anns, shapes=shapes, **layout)
fig.write_html("out.html", post_script="document.body.style.margin='0';", config=dict(displayModeBar=False))
